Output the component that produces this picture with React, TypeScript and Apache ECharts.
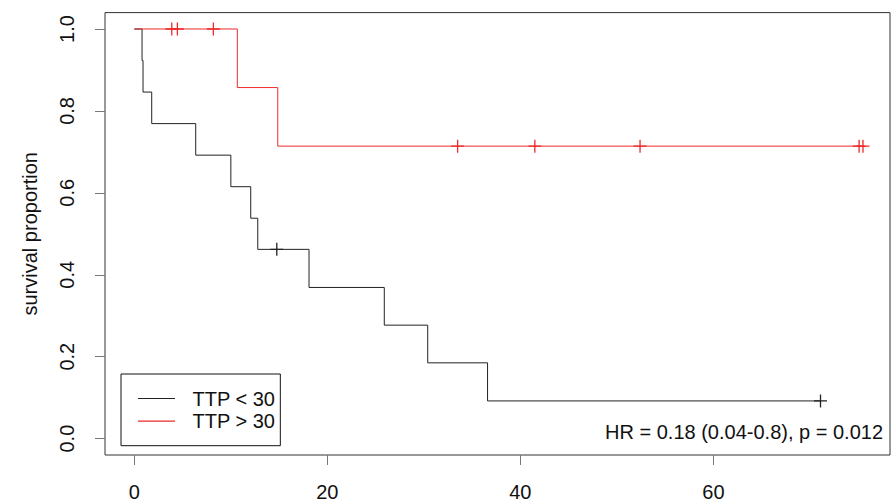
import React, { useEffect, useRef } from "react";
import * as echarts from "echarts";

// Kaplan–Meier curve: TTP < 30 (step points: time, survival)
const lowTimes = [0, 0.8, 0.9, 1.8, 6.36, 10.0, 12.06, 12.79, 18.1, 25.9, 30.4, 36.6, 71.1];
const lowSurv = [1.0, 0.923, 0.846, 0.769, 0.692, 0.615, 0.538, 0.462, 0.369, 0.277, 0.185, 0.092, 0.092];
const lowCensorTimes = [14.76, 71.1];
const lowCensorSurv = [0.462, 0.092];

// Kaplan–Meier curve: TTP > 30
const highTimes = [0, 10.67, 14.86, 75.5];
const highSurv = [1.0, 0.857, 0.714, 0.714];
const highCensorTimes = [3.88, 4.46, 8.19, 33.5, 41.5, 52.4, 75.1, 75.5];
const highCensorSurv = [1.0, 1.0, 1.0, 0.714, 0.714, 0.714, 0.714, 0.714];

const xTicks = [0, 20, 40, 60];
const yTicks = [0, 0.2, 0.4, 0.6, 0.8, 1.0];

const seriesNames = ["TTP < 30", "TTP > 30"];
const annotation = "HR = 0.18 (0.04-0.8), p = 0.012";

const FONT = "'Liberation Sans', Arial, Helvetica, sans-serif";
const BLACK = "#222222";
const RED = "#ee2a2a";
const PLUS =
  "path://M-0.1,-1 L0.1,-1 L0.1,-0.1 L1,-0.1 L1,0.1 L0.1,0.1 L0.1,1 L-0.1,1 L-0.1,0.1 L-1,0.1 L-1,-0.1 L-0.1,-0.1 Z";
const LINE_ICON = "path://M0,0 L37,0 L37,1.2 L0,1.2 Z";

const zip = (a: number[], b: number[]) => a.map((v, i) => [v, b[i]]);

export default function App() {
  const ref = useRef<HTMLDivElement>(null);
  useEffect(() => {
    document.body.style.margin = "0";
    const chart = echarts.init(ref.current!, undefined, { renderer: "svg" });
    chart.setOption({
      animation: false,
      backgroundColor: "#ffffff",
      textStyle: { fontFamily: FONT },
      grid: {
        left: 105,
        right: 1,
        top: 12.6,
        bottom: 47,
        show: true,
        borderColor: "#333",
        borderWidth: 1,
        backgroundColor: "transparent",
      },
      xAxis: {
        type: "value",
        min: -3.04,
        max: 78.3,
        axisLine: { show: false, onZero: false },
        splitLine: { show: false },
        axisTick: {
          show: true,
          length: 10,
          customValues: xTicks,
          lineStyle: { color: "#777", width: 1 },
        },
        axisLabel: {
          customValues: xTicks,
          margin: 27,
          fontSize: 20,
          lineHeight: 20,
          color: "#111",
          fontFamily: FONT,
        },
      },
      yAxis: {
        type: "value",
        min: -0.04,
        max: 1.04,
        name: "survival proportion",
        nameLocation: "middle",
        nameRotate: 90,
        nameGap: 65,
        nameTextStyle: { fontSize: 20, lineHeight: 20, color: "#111", fontFamily: FONT },
        axisLine: { show: false, onZero: false },
        splitLine: { show: false },
        axisTick: {
          show: true,
          length: 10,
          customValues: yTicks,
          lineStyle: { color: "#777", width: 1 },
        },
        axisLabel: {
          customValues: yTicks,
          rotate: 90,
          margin: 28,
          fontSize: 20,
          lineHeight: 20,
          color: "#111",
          fontFamily: FONT,
          formatter: (v: number) => v.toFixed(1),
        },
      },
      legend: {
        data: seriesNames.map((n) => ({ name: n, icon: LINE_ICON })),
        orient: "vertical",
        left: 121,
        top: 374,
        borderColor: "#111",
        borderWidth: 1,
        padding: [14.5, 5, 14.5, 17],
        itemWidth: 37,
        itemHeight: 14,
        itemGap: 2.7,
        symbolKeepAspect: true,
        textStyle: {
          fontSize: 20,
          lineHeight: 20,
          color: "#111",
          fontFamily: FONT,
          padding: [0, 0, 0, 12.5],
        },
      },
      graphic: [
        {
          type: "text",
          right: 8,
          top: 422,
          style: {
            text: annotation,
            fontSize: 20,
            fontFamily: FONT,
            fill: "#111",
          },
        },
      ],
      series: [
        {
          name: seriesNames[0],
          type: "line",
          step: "end",
          symbol: "none",
          data: zip(lowTimes, lowSurv),
          lineStyle: { color: BLACK, width: 1 },
          itemStyle: { color: BLACK },
          silent: true,
        },
        {
          name: "censor-low",
          type: "scatter",
          symbol: PLUS,
          symbolSize: 13,
          data: zip(lowCensorTimes, lowCensorSurv),
          itemStyle: { color: BLACK, opacity: 1 },
          silent: true,
        },
        {
          name: seriesNames[1],
          type: "line",
          step: "end",
          symbol: "none",
          data: zip(highTimes, highSurv),
          lineStyle: { color: RED, width: 1 },
          itemStyle: { color: RED },
          silent: true,
        },
        {
          name: "censor-high",
          type: "scatter",
          symbol: PLUS,
          symbolSize: 13,
          data: zip(highCensorTimes, highCensorSurv),
          itemStyle: { color: RED, opacity: 1 },
          silent: true,
        },
      ],
    });
    return () => chart.dispose();
  }, []);
  return (
    <div
      ref={ref}
      style={{ position: "fixed", left: 0, top: 0, width: 891, height: 502 }}
    />
  );
}
